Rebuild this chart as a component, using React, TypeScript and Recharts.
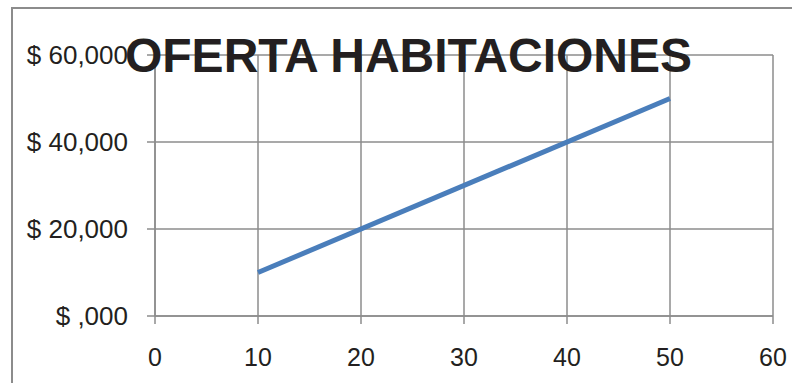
import React from 'react';
import { LineChart, Line, XAxis, YAxis, CartesianGrid } from 'recharts';

const habitaciones = [10, 50];
const precios = [10000, 50000];
const xTicks = [0, 10, 20, 30, 40, 50, 60];
const yTicks = [0, 20000, 40000, 60000];

const data = habitaciones.map((x, i) => ({ x, precio: precios[i] }));

const formatPeso = (v: number) => {
  if (v === 0) return '$ ,000';
  return '$ ' + v.toLocaleString('en-US');
};

const FONT = '"Liberation Sans", Arial, sans-serif';
const GRID = '#8c8c8c';

export default function App() {
  return (
    <div style={{ position: 'fixed', left: 0, top: 0, width: 792, height: 383, overflow: 'hidden', background: '#fff', fontFamily: FONT }}>
      <div
        style={{
          position: 'absolute',
          left: 11,
          top: 7,
          width: 820,
          height: 420,
          border: '2px solid #8c8c8c',
          boxSizing: 'border-box',
        }}
      />
      <LineChart
        width={792}
        height={383}
        data={data}
        margin={{ top: 55, right: 19, left: 15, bottom: 0 }}
        style={{ position: 'absolute', left: 0, top: 0 }}
      >
        <CartesianGrid stroke={GRID} strokeWidth={1.5} />
        <XAxis
          dataKey="x"
          type="number"
          domain={[0, 60]}
          ticks={xTicks}
          height={67}
          tickSize={8}
          tickMargin={24}
          axisLine={{ stroke: GRID, strokeWidth: 1.5 }}
          tickLine={{ stroke: GRID, strokeWidth: 1.5 }}
          tick={{ fill: '#231f20', fontSize: 25, fontFamily: FONT }}
        />
        <YAxis
          type="number"
          domain={[0, 60000]}
          ticks={yTicks}
          width={140}
          tickSize={8}
          tickMargin={19}
          tickFormatter={formatPeso}
          axisLine={{ stroke: GRID, strokeWidth: 1.5 }}
          tickLine={{ stroke: GRID, strokeWidth: 1.5 }}
          tick={{ fill: '#231f20', fontSize: 26, fontFamily: FONT }}
        />
        <Line
          dataKey="precio"
          stroke="#4a7ebb"
          strokeWidth={5}
          dot={false}
          isAnimationActive={false}
        />
      </LineChart>
      <div
        style={{
          position: 'absolute',
          left: 0,
          width: 817,
          top: 30,
          textAlign: 'center',
          fontSize: 48,
          fontWeight: 'bold',
          color: '#231f20',
          lineHeight: '52px',
        }}
      >
        OFERTA HABITACIONES
      </div>
    </div>
  );
}
